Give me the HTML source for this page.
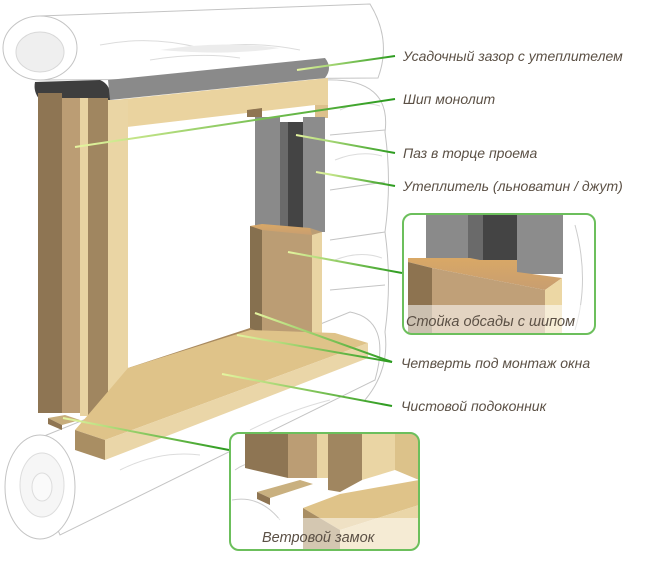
<!DOCTYPE html>
<html><head><meta charset="utf-8"><style>
html,body{margin:0;padding:0;background:#fff;width:657px;height:562px;overflow:hidden}
svg text{font-family:"Liberation Sans",sans-serif;font-style:italic;font-size:14px;fill:#5b5045}
</style></head><body>
<svg width="657" height="562" viewBox="0 0 657 562" xmlns="http://www.w3.org/2000/svg">
<defs>
<linearGradient id="g" x1="0" x2="1" y1="0" y2="0"><stop offset="0" stop-color="#e6f5a0"/><stop offset="1" stop-color="#2a9a1e"/></linearGradient>
<linearGradient id="or" x1="0" x2="0" y1="0" y2="1"><stop offset="0" stop-color="#d9a866"/><stop offset="1" stop-color="#c89e70"/></linearGradient>
</defs>
<!-- logs -->
<g fill="#fff" stroke="#c4c4c4" stroke-width="1">
<path d="M40,16 L370,4 Q392,40 378,78 L40,80 Z"/>
<ellipse cx="40" cy="48" rx="37" ry="32"/>
<ellipse cx="40" cy="52" rx="24" ry="20" fill="#efefef" stroke="#d8d8d8"/>
<path d="M325,80 Q392,78 385,132 Q392,182 385,232 Q392,282 385,332 Q390,370 365,400" fill="#fff"/>
<path d="M330,135 L385,130 M330,190 L385,182 M330,240 L385,232 M330,290 L385,285"/>
<path d="M22,445 L350,312 Q392,320 375,380 L60,535 Z"/>
<ellipse cx="40" cy="487" rx="35" ry="52"/>
<ellipse cx="42" cy="485" rx="22" ry="32" fill="#f6f6f6" stroke="#ddd"/>
<ellipse cx="42" cy="487" rx="10" ry="14" fill="#fafafa" stroke="#ddd"/>
</g>
<g stroke="#dcdcdc" fill="none">
<path d="M100,45 Q150,35 200,48 Q250,40 300,50"/>
<path d="M150,60 Q200,52 240,58"/>
<path d="M340,110 Q360,100 380,106 M335,160 Q360,150 382,156 M335,260 Q360,250 382,258"/>
<path d="M120,470 Q160,450 200,455 M250,430 Q290,410 330,400"/>
</g>
<path d="M160,50 Q220,40 280,48 Q230,56 160,50Z" fill="#ececec"/>
<!-- insulation top -->
<path d="M35,82 L100,80 Q112,85 110,100 L40,100 Q33,92 35,82Z" fill="#3e3e3e"/>
<path d="M108,80 L325,58 Q333,68 325,78 L110,100 Z" fill="#8a8a8a"/>
<!-- header -->
<path d="M115,100 L328,78 L328,118 L315,118 L315,105 L118,128 Z" fill="#ead39f"/>
<path d="M315,105 L328,105 L328,118 L315,118Z" fill="#dcc08c"/>
<path d="M247,110 L262,108 L262,117 L247,117Z" fill="#8f7552"/>
<!-- opening insulation -->
<rect x="255" y="117" width="25" height="112" fill="#8a8a8a"/>
<rect x="280" y="122" width="8" height="107" fill="#6a6a6a"/>
<rect x="288" y="122" width="15" height="107" fill="#444"/>
<rect x="303" y="117" width="22" height="115" fill="#8c8c8c"/>
<!-- right post -->
<path d="M250,226 L310,228 L322,232 L322,345 L250,345Z" fill="#bb9d74"/>
<path d="M250,226 L262,228 L262,345 L250,345Z" fill="#86704f"/>
<path d="M312,235 L322,232 L322,345 L312,345Z" fill="#e9d4a3"/>
<path d="M250,226 L262,224 L310,228 L312,235 L262,230Z" fill="url(#or)"/>
<!-- left post -->
<rect x="38" y="93" width="24" height="320" fill="#8e7553"/>
<rect x="62" y="98" width="18" height="315" fill="#bb9d74"/>
<rect x="80" y="98" width="8" height="318" fill="#e8d3a2"/>
<rect x="88" y="98" width="20" height="320" fill="#a08660"/>
<rect x="108" y="100" width="20" height="305" fill="#ead5a4"/>
<!-- sill -->
<path d="M128,368 L250,328 L255,330 L255,338 L128,380Z" fill="#a8895f"/>
<path d="M88,415 L128,368 L250,330 L335,333 L368,343 L105,440 L75,430 Z" fill="#dfc389"/>
<path d="M105,440 L368,343 L368,358 L105,460Z" fill="#ead6a8"/>
<path d="M75,430 L105,440 L105,460 L75,450Z" fill="#a98e63"/>
<path d="M48,418 L65,415 L80,420 L62,425Z" fill="#c7ad7c"/>
<path d="M48,418 L62,425 L62,430 L48,424Z" fill="#8f7552"/>
<!-- leader lines -->
<g stroke="url(#g)" stroke-width="2" fill="none">
<line x1="297" y1="70" x2="395" y2="56"/>
<line x1="75" y1="147" x2="395" y2="99"/>
<line x1="296" y1="135" x2="395" y2="153"/>
<line x1="316" y1="172" x2="395" y2="186"/>
<line x1="288" y1="252" x2="402" y2="273"/>
<line x1="255" y1="313" x2="392" y2="362"/>
<line x1="237" y1="335" x2="392" y2="362"/>
<line x1="222" y1="374" x2="392" y2="406"/>
<line x1="63" y1="418" x2="229" y2="450"/>
</g>
<text x="403" y="61">Усадочный зазор с утеплителем</text>
<text x="403" y="104">Шип монолит</text>
<text x="403" y="158">Паз в торце проема</text>
<text x="403" y="191">Утеплитель (льноватин / джут)</text>
<text x="401" y="368">Четверть под монтаж окна</text>
<text x="401" y="411">Чистовой подоконник</text>
<!-- callout 1 -->
<g>
<clipPath id="c1"><rect x="403" y="214" width="192" height="120" rx="9"/></clipPath>
<g clip-path="url(#c1)">
<rect x="403" y="214" width="192" height="120" fill="#fff"/>
<path d="M575,225 Q590,280 575,330" stroke="#ccc" fill="none"/>
<rect x="426" y="214" width="42" height="50" fill="#8a8a8a"/>
<rect x="468" y="214" width="15" height="48" fill="#6a6a6a"/>
<rect x="483" y="214" width="34" height="48" fill="#444"/>
<rect x="517" y="214" width="46" height="60" fill="#8c8c8c"/>
<path d="M408,258 L470,258 L480,260 L517,260 L517,272 L562,278 L545,290 L432,268 L408,262Z" fill="url(#or)"/>
<path d="M432,268 L545,290 L545,335 L432,335Z" fill="#c0a078"/>
<path d="M408,262 L432,268 L432,335 L408,335Z" fill="#8d7350"/>
<path d="M545,290 L562,278 L562,335 L545,335Z" fill="#ecd7a4"/>
<rect x="403" y="305" width="192" height="30" fill="#fff" fill-opacity="0.55"/>
</g>
<rect x="403" y="214" width="192" height="120" rx="9" fill="none" stroke="#6cbf5c" stroke-width="2"/>
<text x="406" y="326" style="font-size:14.5px">Стойка обсады с шипом</text>
</g>
<!-- callout 2 -->
<g>
<clipPath id="c2"><rect x="230" y="433" width="189" height="117" rx="9"/></clipPath>
<g clip-path="url(#c2)">
<rect x="230" y="433" width="189" height="117" fill="#fff"/>
<path d="M235,470 Q255,455 290,470 M232,500 Q260,495 280,520" stroke="#ccc" fill="none"/>
<path d="M245,433 L288,433 L288,478 L245,468Z" fill="#8e7553"/>
<path d="M288,433 L317,433 L317,478 L288,478Z" fill="#bb9d74"/>
<rect x="317" y="433" width="11" height="45" fill="#e8d3a2"/>
<path d="M328,433 L362,433 L362,480 L340,492 L328,490Z" fill="#a08660"/>
<path d="M362,433 L395,433 L395,470 L362,480Z" fill="#ead5a4"/>
<path d="M395,433 L419,433 L419,480 L395,470Z" fill="#dcc28a"/>
<path d="M257,492 L300,480 L313,484 L270,498Z" fill="#c9b07f"/>
<path d="M257,492 L270,498 L270,505 L257,499Z" fill="#8f7552"/>
<path d="M303,508 L340,494 L419,480 L419,505 L340,530 Z" fill="#dfc389"/>
<path d="M303,508 L340,530 L340,550 L303,550Z" fill="#a98e63"/>
<path d="M340,530 L419,505 L419,550 L340,550Z" fill="#ead6a8"/>
<rect x="230" y="518" width="189" height="32" fill="#fff" fill-opacity="0.5"/>
</g>
<rect x="230" y="433" width="189" height="117" rx="9" fill="none" stroke="#6cbf5c" stroke-width="2"/>
<text x="262" y="542" style="font-size:14.5px">Ветровой замок</text>
</g>
</svg>
</body></html>
